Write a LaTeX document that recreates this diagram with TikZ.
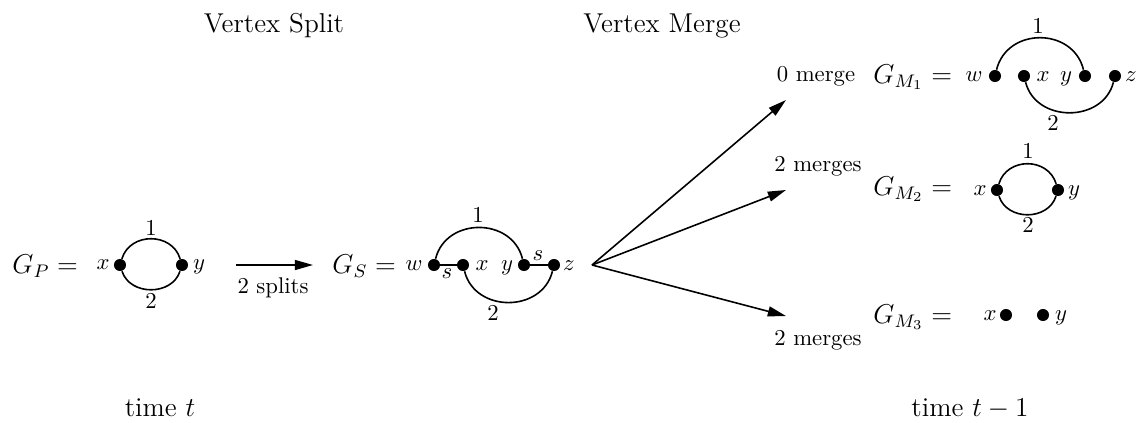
\documentclass[tikz,border=0pt]{standalone}
\usetikzlibrary{arrows.meta}
\tikzset{
  big/.style={font=\fontsize{12}{14}\selectfont, inner sep=0pt},
  small/.style={font=\fontsize{10}{12}\selectfont, inner sep=0pt},
  dot/.style={circle, fill=black, inner sep=0pt, minimum size=5.3pt},
  edge/.style={line width=0.7pt},
  arr/.style={line width=0.7pt, -{Triangle[length=8pt,width=4.4pt]}},
}
\begin{document}
\begin{tikzpicture}[x=0.44pt,y=-0.44pt]
\useasboundingbox (0,0) rectangle (1138,422);
% titles
\node[big,anchor=base] (vs) at (274,32) {Vertex Split};
\node[big,anchor=base] (vm) at (662,32) {Vertex Merge};
\node[big,anchor=base] (tt) at (160,416) {time $t$};
\node[big,anchor=base] (tt1) at (970,416) {time $t-1$};

% G_P
\node[big,anchor=base west] (gp) at (12,273) {$G_P =$};
\node[dot] (px) at (120,265) {};
\node[dot] (py) at (182,265) {};
\node[small,anchor=base] (pxl) at (103,269) {$x$};
\node[small,anchor=base] (pyl) at (199,269) {$y$};
\draw[edge] (px) .. controls +(10,-33) and +(-10,-33) .. (py);
\draw[edge] (px) .. controls +(10,31) and +(-10,31) .. (py);
\node[small,anchor=base] (p1) at (151,235) {1};
\node[small,anchor=base] (p2) at (151,308) {2};

% split arrow
\coordinate (sa) at (236,265);
\coordinate (sb) at (313,265);
\draw[arr] (sa) -- (sb);
\node[small,anchor=base] (spl) at (273,293) {2 splits};

% G_S
\node[big,anchor=base west] (gs) at (332,273) {$G_S =$};
\node[dot] (sw) at (434,265) {};
\node[dot] (sx) at (463,265) {};
\node[dot] (sy) at (524,265) {};
\node[dot] (sz) at (554,265) {};
\node[small,anchor=base] (swl) at (414,270) {$w$};
\node[small,anchor=base] (sxl) at (482,270) {$x$};
\node[small,anchor=base] (syl) at (507,270) {$y$};
\node[small,anchor=base] (szl) at (569,270) {$z$};
\draw[edge] (sw) -- (sx);
\draw[edge] (sy) -- (sz);
\draw[edge] (sw) .. controls +(12,-48) and +(-12,-48) .. (sy);
\draw[edge] (sx) .. controls +(12,48) and +(-12,48) .. (sz);
\node[small,anchor=base] (ss1) at (538,260) {$s$};
\node[small,anchor=base] (ss2) at (447,278) {$s$};
\node[small,anchor=base] (s1) at (478,222) {1};
\node[small,anchor=base] (s2) at (493,320) {2};

% fan
\coordinate (fo) at (592,265);
\coordinate (f1) at (786,100);
\coordinate (f2) at (786,190);
\coordinate (f3) at (786,316);
\draw[arr] (fo) -- (f1);
\draw[arr] (fo) -- (f2);
\draw[arr] (fo) -- (f3);
\node[small,anchor=base] (m0) at (816,81) {0 merge};
\node[small,anchor=base] (m2a) at (818,171) {2 merges};
\node[small,anchor=base] (m2b) at (818,345) {2 merges};

% G_M1
\node[big,anchor=base west] (gm1) at (873,83) {$G_{M_1} =$};
\node[dot] (mw) at (995,76) {};
\node[dot] (mx) at (1024,76) {};
\node[dot] (my) at (1085,76) {};
\node[dot] (mz) at (1115,76) {};
\node[small,anchor=base] (mwl) at (974,81) {$w$};
\node[small,anchor=base] (mxl) at (1043,81) {$x$};
\node[small,anchor=base] (myl) at (1066,81) {$y$};
\node[small,anchor=base] (mzl) at (1131,81) {$z$};
\draw[edge] (mw) .. controls +(12,-49) and +(-12,-49) .. (my);
\draw[edge] (mx) .. controls +(12,47) and +(-12,47) .. (mz);
\node[small,anchor=base] (m11) at (1038,33) {1};
\node[small,anchor=base] (m12) at (1053,130) {2};

% G_M2
\node[big,anchor=base west] (gm2) at (873,195) {$G_{M_2} =$};
\node[dot] (nx) at (997,190) {};
\node[dot] (ny) at (1058,190) {};
\node[small,anchor=base] (nxl) at (980,195) {$x$};
\node[small,anchor=base] (nyl) at (1074,195) {$y$};
\draw[edge] (nx) .. controls +(10,-33) and +(-10,-33) .. (ny);
\draw[edge] (nx) .. controls +(10,31) and +(-10,31) .. (ny);
\node[small,anchor=base] (n1) at (1028,158) {1};
\node[small,anchor=base] (n2) at (1028,232) {2};

% G_M3
\node[big,anchor=base west] (gm3) at (873,323) {$G_{M_3} =$};
\node[dot] (ox) at (1006,315) {};
\node[dot] (oy) at (1043,315) {};
\node[small,anchor=base] (oxl) at (990,320) {$x$};
\node[small,anchor=base] (oyl) at (1061,320) {$y$};
\end{tikzpicture}
\end{document}
